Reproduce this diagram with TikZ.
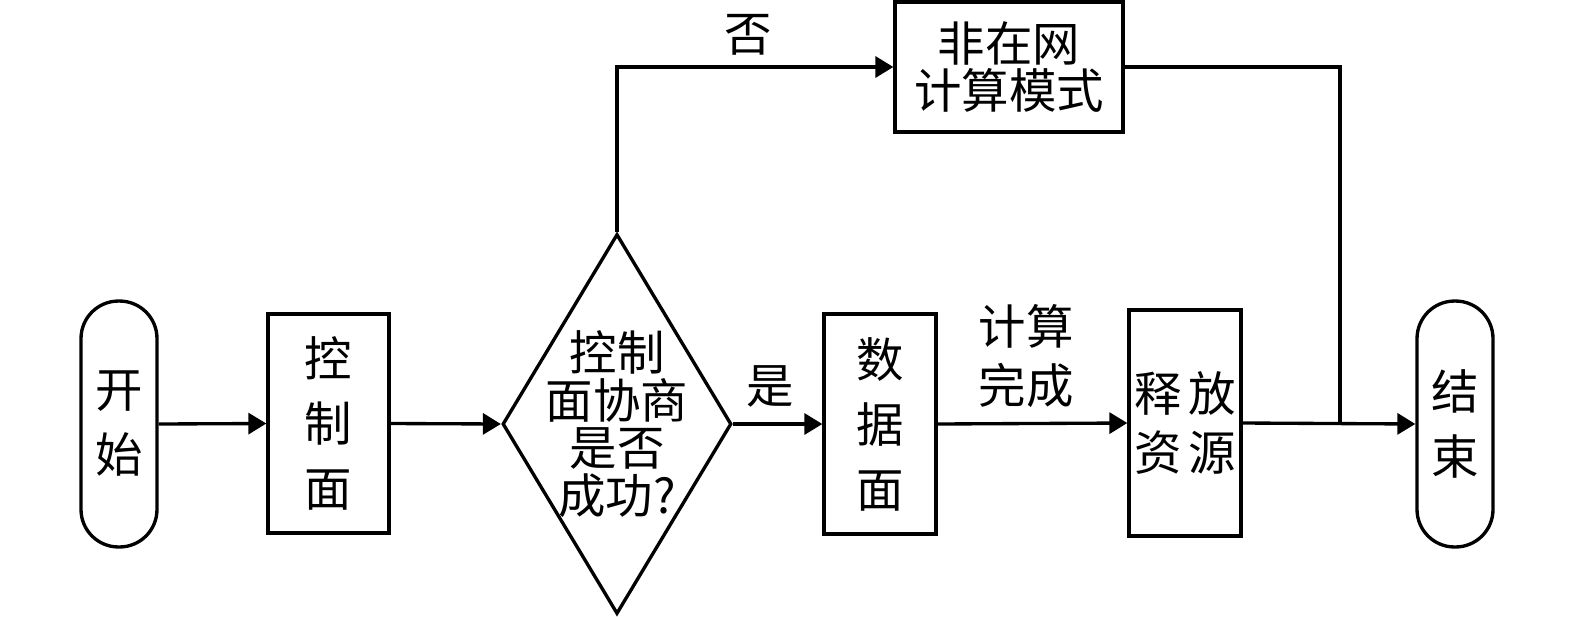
\documentclass[tikz,border=0pt]{standalone}
\usepackage{fontspec}
\newfontfamily\cjk{Noto Sans CJK SC}
\usetikzlibrary{shapes.geometric,arrows.meta}
\begin{document}
\begin{tikzpicture}[x=0.02cm,y=-0.02cm,
  every node/.style={font=\cjk\fontsize{27}{27}\selectfont},
  box/.style={draw,line width=1.9pt,inner sep=0pt,align=center},
  pill/.style={draw,line width=1.9pt,inner sep=0pt,align=center,rounded corners=0.75cm,minimum width=1.52cm,minimum height=4.92cm},
  conn/.style={line width=1.9pt},
  arr/.style={line width=1.9pt,-{Triangle[length=0.36cm,width=0.42cm]}},
  lbl/.style={align=center,inner sep=0pt}]
\useasboundingbox (0,0) rectangle (1575,616);
\node[pill] (start) at (119,424) {开\\[10pt]始};
\node[box,minimum width=2.42cm,minimum height=4.38cm] (ctrl) at (328.5,423.5) {控\\[10pt]制\\[10pt]面};
\node[draw,diamond,line width=1.9pt,inner sep=0pt,minimum width=4.58cm,minimum height=7.6cm] (dec) at (617,424) {};
\node[lbl] (dect) at (dec.center) {控制\\面协商\\是否\\成功?};
\node[box,minimum width=4.56cm,minimum height=2.6cm] (fei) at (1009,67) {非在网\\计算模式};
\node[box,minimum width=2.24cm,minimum height=4.4cm] (data) at (880,424) {数\\[10pt]据\\[10pt]面};
\node[box,minimum width=2.24cm,minimum height=4.52cm] (rel) at (1185,423) {释\hspace{4pt}放\\[7pt]资\hspace{4pt}源};
\node[pill] (end) at (1455,424) {结\\[10pt]束};
\coordinate (top) at (617,67);
\coordinate (j) at (1340,424);
\draw[arr] (start.east) -- (ctrl.west);
\draw[arr] (ctrl.east) -- (dec.west);
\draw[arr] (dec.east) -- (data.west);
\draw[arr] (dec.north) -- (top) -- (fei.west);
\draw[arr] (data.east) -- (rel.west);
\draw[arr] (rel.east) -- (end.west);
\draw[conn] (fei.east) -| (j);
\node[lbl] (no) at (748,35) {否};
\node[lbl] (yes) at (770,386) {是};
\node[lbl] (done) at (1026,356) {计算\\[7pt]完成};
\end{tikzpicture}
\end{document}
